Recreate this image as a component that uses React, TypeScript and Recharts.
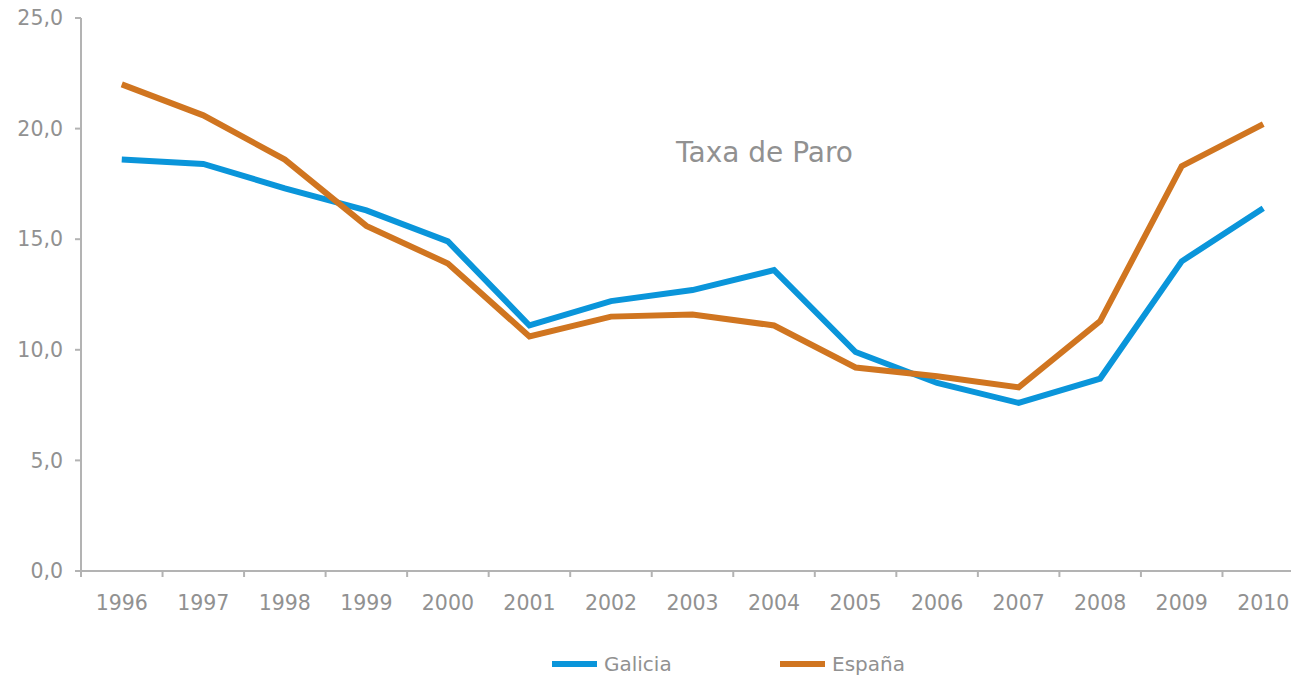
import { Legend, Line, LineChart, XAxis, YAxis } from "recharts";

const YEARS = [1996, 1997, 1998, 1999, 2000, 2001, 2002, 2003, 2004, 2005, 2006, 2007, 2008, 2009, 2010];
const GALICIA = [18.6, 18.4, 17.3, 16.3, 14.9, 11.1, 12.2, 12.7, 13.6, 9.9, 8.5, 7.6, 8.7, 14.0, 16.4];
const ESPANA = [22.0, 20.6, 18.6, 15.6, 13.9, 10.6, 11.5, 11.6, 11.1, 9.2, 8.8, 8.3, 11.3, 18.3, 20.2];
const Y_TICKS = [0, 5, 10, 15, 20, 25];
const SERIES_ORDER = ["Galicia", "España"];
// tick marks sit between the year labels, like a category axis
const BOUNDARY_TICKS = [...YEARS.map((y) => y - 0.5), YEARS[YEARS.length - 1] + 0.5];

const FONT = '"DejaVu Sans", Verdana, sans-serif';
const GREY = "#919191";
const AXIS = "#b3b3b3";
const BLUE = "#0a95da";
const ORANGE = "#d07520";

const data = YEARS.map((year, i) => ({
  year,
  galicia: GALICIA[i],
  espana: ESPANA[i],
}));

const fmt = (v: number) => v.toFixed(1).replace(".", ",");

function LegendContent(props: any) {
  const items = [...(props.payload ?? [])].sort(
    (a: any, b: any) => SERIES_ORDER.indexOf(a.value) - SERIES_ORDER.indexOf(b.value)
  );
  return (
    <div
      style={{
        height: 40,
        paddingTop: 16,
        boxSizing: "border-box",
        display: "flex",
        fontFamily: FONT,
        fontSize: 20,
        color: GREY,
      }}
    >
      {items.map((p: any) => (
        <div
          key={p.value}
          style={{ display: "flex", alignItems: "center", width: 228, height: 24 }}
        >
          <span
            style={{
              display: "inline-block",
              width: 45,
              height: 6,
              background: p.color,
              marginRight: 7,
            }}
          />
          {p.value}
        </div>
      ))}
    </div>
  );
}

export default function App() {
  return (
    <div
      style={{
        position: "fixed",
        left: 0,
        top: 0,
        width: 1291,
        height: 676,
        overflow: "hidden",
        background: "#fff",
      }}
    >
      <LineChart
        width={1304}
        height={676}
        data={data}
        margin={{ top: 18, right: 0, left: 0, bottom: 0 }}
      >
        <XAxis
          xAxisId="marks"
          type="number"
          dataKey="year"
          domain={[1995.5, 2010.5]}
          ticks={BOUNDARY_TICKS}
          interval={0}
          tickFormatter={() => ""}
          tickSize={6}
          height={1}
          axisLine={{ stroke: AXIS, strokeWidth: 2 }}
          tickLine={{ stroke: AXIS, strokeWidth: 2 }}
        />
        <XAxis
          xAxisId="years"
          type="number"
          dataKey="year"
          domain={[1995.5, 2010.5]}
          ticks={YEARS}
          interval={0}
          axisLine={false}
          tickLine={false}
          tickSize={6}
          tickMargin={17}
          height={64}
          tick={{ fill: GREY, fontSize: 20.5, fontFamily: FONT }}
        />
        <YAxis
          domain={[0, 25]}
          ticks={Y_TICKS}
          interval={0}
          width={81}
          tickFormatter={fmt}
          tickSize={6}
          tickMargin={12}
          axisLine={{ stroke: AXIS, strokeWidth: 2 }}
          tickLine={{ stroke: AXIS, strokeWidth: 2 }}
          tick={{ fill: GREY, fontSize: 20.5, fontFamily: FONT }}
        />
        <Legend
          verticalAlign="bottom"
          align="left"
          content={LegendContent}
          wrapperStyle={{ left: 552, width: "auto" }}
        />
        <Line
          xAxisId="years"
          type="linear"
          dataKey="galicia"
          name="Galicia"
          stroke={BLUE}
          strokeWidth={6}
          dot={false}
          activeDot={false}
          isAnimationActive={false}
        />
        <Line
          xAxisId="years"
          type="linear"
          dataKey="espana"
          name="España"
          stroke={ORANGE}
          strokeWidth={6}
          dot={false}
          activeDot={false}
          isAnimationActive={false}
        />
      </LineChart>
      <div
        style={{
          position: "absolute",
          left: 676,
          top: 137,
          lineHeight: "32px",
          fontFamily: FONT,
          fontSize: 28,
          color: GREY,
          whiteSpace: "nowrap",
        }}
      >
        Taxa de Paro
      </div>
    </div>
  );
}
